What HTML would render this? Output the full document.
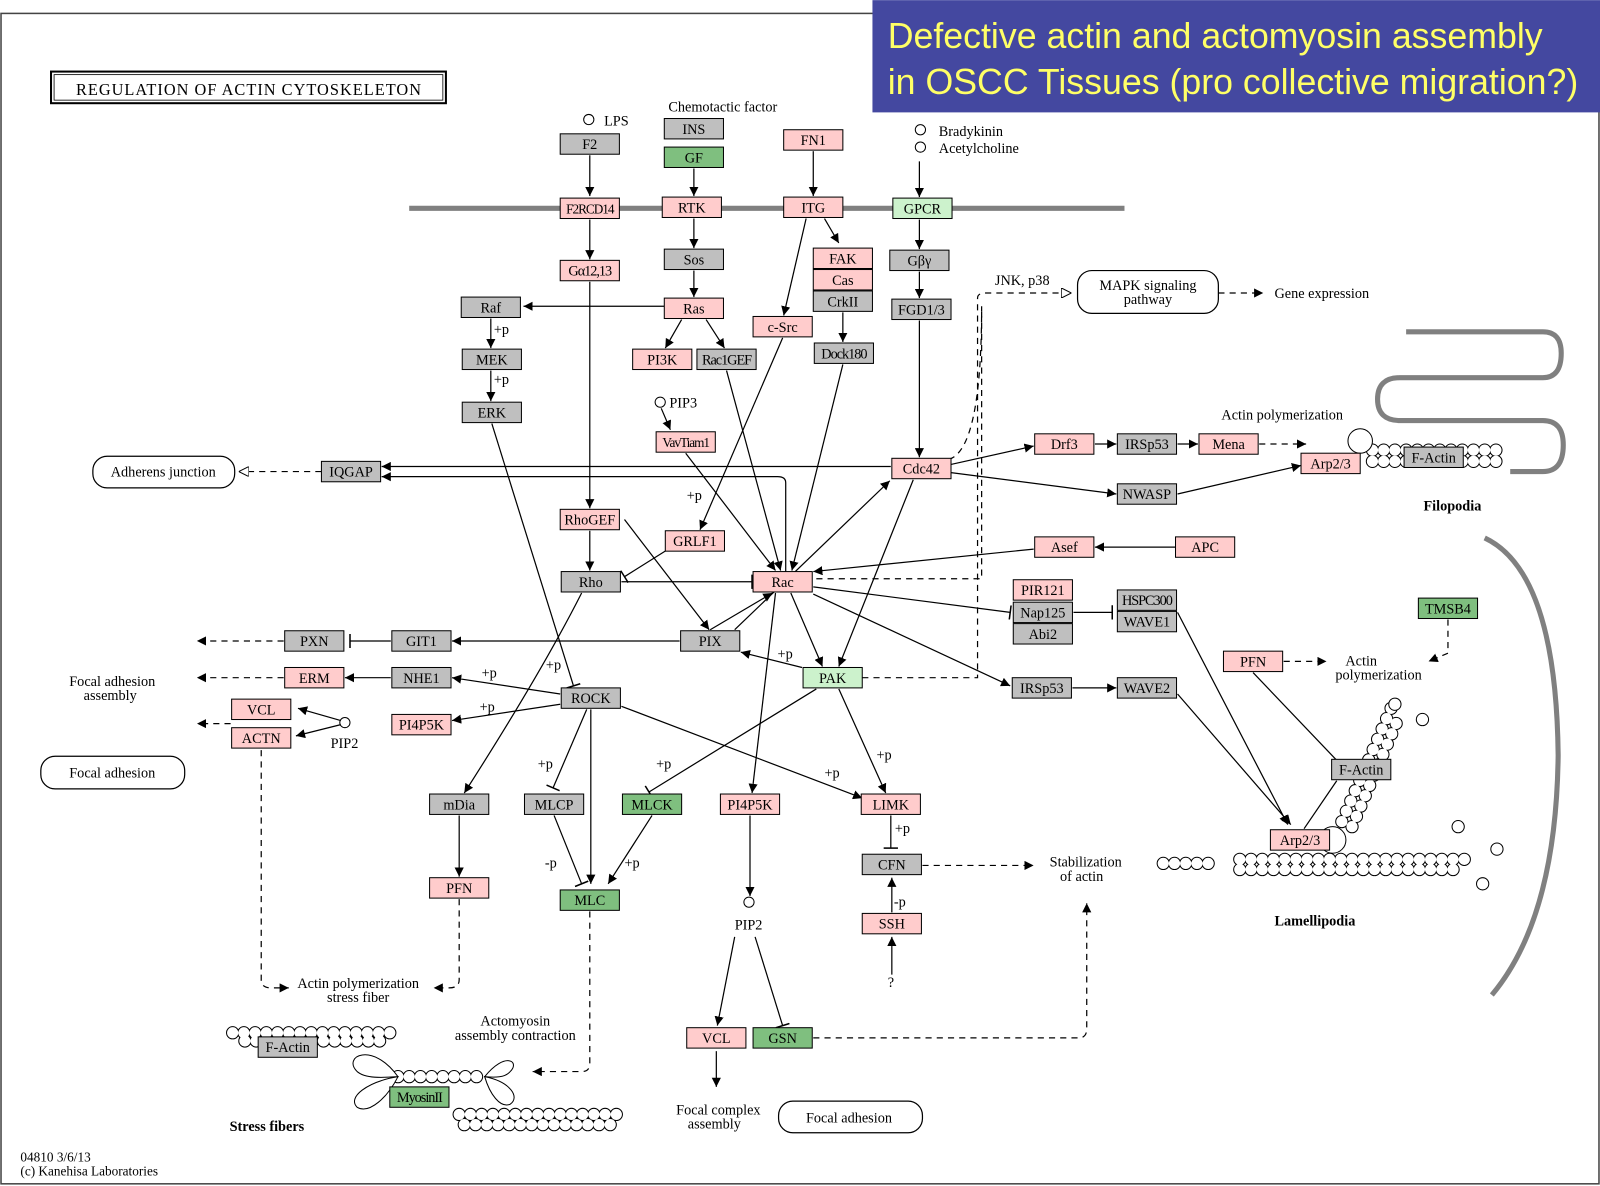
<!DOCTYPE html>
<html><head><meta charset="utf-8"><style>
html,body{margin:0;padding:0;background:#fff;}
svg{display:block}
text{font-family:"Liberation Serif",serif;font-size:14px;fill:#000}
.n text{text-anchor:middle}
.e{stroke:#000;stroke-width:1.2;fill:none}
.d{stroke:#000;stroke-width:1.2;fill:none;stroke-dasharray:6 5}
.p{fill:#ffcccc;stroke:#000;stroke-width:1}
.g{fill:#bfbfbf;stroke:#000;stroke-width:1}
.G{fill:#7fbf7f;stroke:#000;stroke-width:1}
.L{fill:#ccf2cc;stroke:#000;stroke-width:1}
</style></head><body>
<svg width="1600" height="1186" viewBox="0 0 1568 1162" xmlns="http://www.w3.org/2000/svg">
<defs>
<marker id="a" viewBox="0 0 10 10" refX="10" refY="5" markerWidth="9" markerHeight="9" orient="auto-start-reverse" markerUnits="userSpaceOnUse"><path d="M0,0 L10,5 L0,10 z" fill="#000"/></marker>
<marker id="o" viewBox="0 0 10 10" refX="10" refY="5" markerWidth="10" markerHeight="10" orient="auto" markerUnits="userSpaceOnUse"><path d="M0,0 L10,5 L0,10 z" fill="#fff" stroke="#000"/></marker>
<marker id="b" viewBox="0 0 4 14" refX="2" refY="7" markerWidth="4" markerHeight="14" orient="auto" markerUnits="userSpaceOnUse"><path d="M2,0 V14" stroke="#000" stroke-width="1.5"/></marker>
</defs>
<rect x="1" y="13" width="1566" height="1147" fill="#fff" stroke="#444" stroke-width="1.5"/>
<!-- title box -->
<rect x="855" y="0" width="713" height="110" fill="#4448a0"/>
<text x="870" y="47" style="font-family:'Liberation Sans',sans-serif;font-size:35px;fill:#ffff66">Defective actin and actomyosin assembly</text>
<text x="870" y="92" style="font-family:'Liberation Sans',sans-serif;font-size:35px;fill:#ffff66">in OSCC Tissues (pro collective migration?)</text>

<rect x="50" y="70" width="387" height="31" fill="#fff" stroke="#000" stroke-width="2"/>
<rect x="53" y="73" width="381" height="25" fill="none" stroke="#000" stroke-width="0.8"/>
<text x="244" y="93" text-anchor="middle" style="font-size:16px;letter-spacing:1px">REGULATION OF ACTIN CYTOSKELETON</text>

<!-- membrane -->
<line x1="401" y1="204" x2="1102" y2="204" stroke="#808080" stroke-width="5"/>

<!-- filopodia / lamellipodia shapes -->
<path d="M1378,325 H1512 Q1530,325 1530,346 Q1530,370 1512,370 H1372 Q1350,370 1350,391 Q1350,412 1372,412 H1512 Q1532,412 1532,436 Q1532,462 1512,462 H1480" fill="none" stroke="#808080" stroke-width="5"/>
<path d="M1455,527 Q1525,560 1527,740 Q1525,900 1462,975" fill="none" stroke="#808080" stroke-width="5"/>

<!-- actin chains (outlined circles) -->
<g stroke-linecap="round" fill="none">
<g stroke="#000" stroke-width="13" stroke-dasharray="0 11">
<path d="M1345,441 H1470"/><path d="M1345,452 H1470"/>
<path d="M1215,842 H1440"/><path d="M1215,852 H1430"/><path d="M1140,846 H1195"/>
<path d="M1315,805 L1365,690"/><path d="M1325,810 L1372,700"/>
<path d="M228,1012 H385"/><path d="M240,1020 H380"/>
<path d="M450,1092 H610"/><path d="M455,1102 H600"/>
<path d="M390,1055 H470"/>
</g>
<g stroke="#fff" stroke-width="11" stroke-dasharray="0 11">
<path d="M1345,441 H1470"/><path d="M1345,452 H1470"/>
<path d="M1215,842 H1440"/><path d="M1215,852 H1430"/><path d="M1140,846 H1195"/>
<path d="M1315,805 L1365,690"/><path d="M1325,810 L1372,700"/>
<path d="M228,1012 H385"/><path d="M240,1020 H380"/>
<path d="M450,1092 H610"/><path d="M455,1102 H600"/>
<path d="M390,1055 H470"/>
</g>
</g>
<g fill="#fff" stroke="#000">
<circle cx="1367" cy="690" r="6"/><circle cx="1394" cy="705" r="6"/><circle cx="1429" cy="810" r="6"/><circle cx="1467" cy="832" r="6"/><circle cx="1453" cy="866" r="6"/>
<circle cx="1333" cy="432" r="12"/><circle cx="1306" cy="823" r="13"/>
<path d="M390,1055 C365,1020 335,1035 350,1050 C358,1057 375,1056 390,1055 Z"/>
<path d="M390,1055 C360,1060 340,1075 350,1085 C362,1092 380,1075 390,1055 Z"/>
<path d="M475,1055 C495,1030 510,1040 500,1050 C495,1056 485,1056 475,1055 Z"/>
<path d="M475,1055 C500,1060 510,1075 500,1082 C490,1086 480,1072 475,1055 Z"/>
<circle cx="577" cy="117" r="5"/><circle cx="902" cy="127" r="5"/><circle cx="902" cy="144" r="5"/>
<circle cx="647" cy="394" r="5"/><circle cx="338" cy="708" r="5"/><circle cx="734" cy="884" r="5"/>
</g>

<!-- edges -->
<g class="e" marker-end="url(#a)">
<path d="M578,152 V192"/><path d="M680,165 V192"/><path d="M797,148 V192"/><path d="M901,158 V193"/>
<path d="M578,215 V254"/><path d="M680,214 V243"/><path d="M808,214 L822,238"/><path d="M680,265 V291"/>
<path d="M901,215 V244"/><path d="M901,266 V292"/><path d="M651,300 H513"/>
<path d="M481,312 V341"/><path d="M481,363 V393"/><path d="M668,313 L652,341"/><path d="M692,313 L710,341"/>
<path d="M790,214 L768,309"/><path d="M826,306 V335"/><path d="M648,400 L657,421"/><path d="M901,314 V448"/>
<path d="M578,276 V498"/><path d="M578,520 V559"/>
<path d="M873,457 H374"/><path d="M770,560 V473 Q770,467 762,467 H374"/>
<path d="M932,455 L1013,437"/><path d="M1073,435 H1094"/><path d="M1154,435 H1174"/>
<path d="M932,463 L1094,484"/><path d="M1154,484 L1275,456"/>
<path d="M1152,536 H1073"/><path d="M1013,538 L797,560"/><path d="M797,582 L990,672"/>
<path d="M1051,674 H1094"/><path d="M1154,680 L1265,808"/><path d="M1154,600 L1262,808"/>
<path d="M672,444 L760,559"/><path d="M767,331 L686,519"/><path d="M712,363 L765,559"/><path d="M826,357 L776,559"/>
<path d="M775,581 L806,653"/><path d="M895,470 L822,653"/><path d="M720,617 L872,471"/><path d="M696,617 L757,581"/>
<path d="M786,654 L726,639"/><path d="M822,675 L868,777"/>
<path d="M609,692 L845,782"/><path d="M579,695 V866"/><path d="M549,680 L443,664"/><path d="M549,690 L443,706"/>
<path d="M383,664 H338"/><path d="M666,628 H443"/>
<path d="M760,581 L737,777"/><path d="M570,581 Q530,660 455,777"/><path d="M450,799 V859"/>
<path d="M639,799 L596,866"/><path d="M735,799 V878"/><path d="M720,918 L703,1005"/><path d="M702,1030 V1065"/>
<path d="M874,894 V860"/><path d="M874,955 V918"/>
<path d="M334,706 L292,694"/><path d="M334,710 L290,721"/>
<path d="M612,509 L695,617"/>
</g>
<g class="e" marker-end="url(#b)">
<path d="M482,415 L562,672"/><path d="M609,570 L737,570"/><path d="M655,538 L612,565"/>
<path d="M797,575 L990,600"/><path d="M1052,600 H1090"/><path d="M800,675 L636,776"/>
<path d="M575,695 L542,772"/><path d="M543,799 L570,866"/><path d="M740,918 L767,1005"/>
<path d="M873,799 V831"/><path d="M383,628 H343"/>
</g>
<g class="d" marker-end="url(#a)">
<path d="M1234,435 H1280"/><path d="M1194,287 H1238"/><path d="M278,664 H193"/><path d="M278,628 H193"/><path d="M226,709 H193"/>
<path d="M1258,648 H1300"/><path d="M1419,607 V640 L1400,648"/>
<path d="M450,881 V960 Q450,968 440,968 H425"/><path d="M256,735 V960 Q256,968 266,968 H283"/>
<path d="M578,893 V1042 Q578,1050 570,1050 H522"/><path d="M797,1017 H1057 Q1065,1017 1065,1008 V885"/>
<path d="M904,848 H1013"/>
</g>
<g class="d">
<path d="M845,664 H958 V292 Q958,287 966,287 H1050" marker-end="url(#o)"/>
<path d="M930,450 Q962,440 962,300"/>
<path d="M800,567 H962 V300"/>
<path d="M315,462 H234" marker-end="url(#o)"/>
</g>
<path class="e" d="M1228,659 L1310,745"/><path class="e" d="M1310,765 L1278,812"/>

<!-- rounded boxes -->
<g fill="#fff" stroke="#000" stroke-width="1.2">
<rect x="91" y="447" width="139" height="31" rx="14"/>
<rect x="1056" y="265" width="138" height="42" rx="14"/>
<rect x="40" y="741" width="141" height="32" rx="14"/>
<rect x="763" y="1079" width="141" height="31" rx="14"/>
</g>
<text x="160" y="467" text-anchor="middle">Adherens junction</text>
<text x="1125" y="284" text-anchor="middle">MAPK signaling</text><text x="1125" y="298" text-anchor="middle">pathway</text>
<text x="110" y="762" text-anchor="middle">Focal adhesion</text>
<text x="832" y="1100" text-anchor="middle">Focal adhesion</text>

<!-- nodes -->
<g class="n">
<rect class="g" x="549" y="131" width="58" height="20"/><text x="578" y="146">F2</text>
<rect class="g" x="651" y="116" width="58" height="20"/><text x="680" y="131">INS</text>
<rect class="G" x="651" y="144" width="58" height="20"/><text x="680" y="159">GF</text>
<rect class="p" x="768" y="127" width="58" height="20"/><text x="797" y="142">FN1</text>
<rect class="L" x="875" y="194" width="58" height="20"/><text x="904" y="209">GPCR</text>
<rect class="p" x="549" y="194" width="58" height="20"/><text x="578" y="209" style="font-size:13px;letter-spacing:-1px">F2RCD14</text>
<rect class="p" x="649" y="193" width="58" height="20"/><text x="678" y="208">RTK</text>
<rect class="p" x="768" y="193" width="58" height="20"/><text x="797" y="208">ITG</text>
<rect class="p" x="549" y="255" width="58" height="20"/><text x="578" y="270" style="letter-spacing:-1px">Gα12,13</text>
<rect class="g" x="651" y="244" width="58" height="20"/><text x="680" y="259">Sos</text>
<rect class="p" x="797" y="243" width="58" height="20"/><text x="826" y="258">FAK</text>
<rect class="p" x="797" y="264" width="58" height="20"/><text x="826" y="279">Cas</text>
<rect class="g" x="797" y="285" width="58" height="20"/><text x="826" y="300">CrkII</text>
<rect class="g" x="872" y="245" width="58" height="20"/><text x="901" y="260">Gβγ</text>
<rect class="g" x="874" y="293" width="58" height="20"/><text x="903" y="308">FGD1/3</text>
<rect class="g" x="452" y="291" width="58" height="20"/><text x="481" y="306">Raf</text>
<rect class="p" x="651" y="292" width="58" height="20"/><text x="680" y="307">Ras</text>
<rect class="p" x="738" y="310" width="58" height="20"/><text x="767" y="325">c-Src</text>
<rect class="g" x="453" y="342" width="58" height="20"/><text x="482" y="357">MEK</text>
<rect class="p" x="620" y="342" width="58" height="20"/><text x="649" y="357">PI3K</text>
<rect class="g" x="683" y="342" width="58" height="20"/><text x="712" y="357" style="letter-spacing:-1px">Rac1GEF</text>
<rect class="g" x="798" y="336" width="58" height="20"/><text x="827" y="351" style="letter-spacing:-1px">Dock180</text>
<rect class="g" x="453" y="394" width="58" height="20"/><text x="482" y="409">ERK</text>
<rect class="p" x="643" y="423" width="58" height="20"/><text x="672" y="438" style="font-size:13px;letter-spacing:-1px">VavTiam1</text>
<rect class="g" x="315" y="452" width="58" height="20"/><text x="344" y="467">IQGAP</text>
<rect class="p" x="874" y="449" width="58" height="20"/><text x="903" y="464">Cdc42</text>
<rect class="p" x="1014" y="425" width="58" height="20"/><text x="1043" y="440">Drf3</text>
<rect class="g" x="1095" y="425" width="58" height="20"/><text x="1124" y="440">IRSp53</text>
<rect class="p" x="1175" y="425" width="58" height="20"/><text x="1204" y="440">Mena</text>
<rect class="p" x="1275" y="444" width="58" height="20"/><text x="1304" y="459">Arp2/3</text>
<rect class="g" x="1376" y="438" width="58" height="20"/><text x="1405" y="453">F-Actin</text>
<rect class="g" x="1095" y="474" width="58" height="20"/><text x="1124" y="489">NWASP</text>
<rect class="p" x="549" y="499" width="58" height="20"/><text x="578" y="514">RhoGEF</text>
<rect class="p" x="652" y="520" width="58" height="20"/><text x="681" y="535">GRLF1</text>
<rect class="p" x="1014" y="526" width="58" height="20"/><text x="1043" y="541">Asef</text>
<rect class="p" x="1152" y="526" width="58" height="20"/><text x="1181" y="541">APC</text>
<rect class="g" x="550" y="560" width="58" height="20"/><text x="579" y="575">Rho</text>
<rect class="p" x="738" y="560" width="58" height="20"/><text x="767" y="575">Rac</text>
<rect class="p" x="993" y="568" width="58" height="20"/><text x="1022" y="583">PIR121</text>
<rect class="g" x="993" y="590" width="58" height="20"/><text x="1022" y="605">Nap125</text>
<rect class="g" x="993" y="611" width="58" height="20"/><text x="1022" y="626">Abi2</text>
<rect class="g" x="1095" y="578" width="58" height="20"/><text x="1124" y="593" style="letter-spacing:-1px">HSPC300</text>
<rect class="g" x="1095" y="599" width="58" height="20"/><text x="1124" y="614">WAVE1</text>
<rect class="G" x="1390" y="586" width="58" height="20"/><text x="1419" y="601">TMSB4</text>
<rect class="g" x="279" y="618" width="58" height="20"/><text x="308" y="633">PXN</text>
<rect class="g" x="384" y="618" width="58" height="20"/><text x="413" y="633">GIT1</text>
<rect class="g" x="667" y="618" width="58" height="20"/><text x="696" y="633">PIX</text>
<rect class="p" x="1199" y="638" width="58" height="20"/><text x="1228" y="653">PFN</text>
<rect class="p" x="279" y="654" width="58" height="20"/><text x="308" y="669">ERM</text>
<rect class="g" x="384" y="654" width="58" height="20"/><text x="413" y="669">NHE1</text>
<rect class="L" x="787" y="654" width="58" height="20"/><text x="816" y="669">PAK</text>
<rect class="g" x="992" y="664" width="58" height="20"/><text x="1021" y="679">IRSp53</text>
<rect class="g" x="1095" y="664" width="58" height="20"/><text x="1124" y="679">WAVE2</text>
<rect class="p" x="227" y="685" width="58" height="20"/><text x="256" y="700">VCL</text>
<rect class="p" x="227" y="713" width="58" height="20"/><text x="256" y="728">ACTN</text>
<rect class="p" x="384" y="700" width="58" height="20"/><text x="413" y="715">PI4P5K</text>
<rect class="g" x="550" y="674" width="58" height="20"/><text x="579" y="689">ROCK</text>
<rect class="g" x="1305" y="744" width="58" height="20"/><text x="1334" y="759">F-Actin</text>
<rect class="g" x="421" y="778" width="58" height="20"/><text x="450" y="793">mDia</text>
<rect class="g" x="514" y="778" width="58" height="20"/><text x="543" y="793">MLCP</text>
<rect class="G" x="610" y="778" width="58" height="20"/><text x="639" y="793">MLCK</text>
<rect class="p" x="706" y="778" width="58" height="20"/><text x="735" y="793">PI4P5K</text>
<rect class="p" x="844" y="778" width="58" height="20"/><text x="873" y="793">LIMK</text>
<rect class="p" x="1245" y="813" width="58" height="20"/><text x="1274" y="828">Arp2/3</text>
<rect class="g" x="845" y="837" width="58" height="20"/><text x="874" y="852">CFN</text>
<rect class="p" x="421" y="860" width="58" height="20"/><text x="450" y="875">PFN</text>
<rect class="G" x="549" y="872" width="58" height="20"/><text x="578" y="887">MLC</text>
<rect class="p" x="845" y="895" width="58" height="20"/><text x="874" y="910">SSH</text>
<rect class="p" x="673" y="1007" width="58" height="20"/><text x="702" y="1022">VCL</text>
<rect class="G" x="738" y="1007" width="58" height="20"/><text x="767" y="1022">GSN</text>
<rect class="g" x="253" y="1016" width="58" height="20"/><text x="282" y="1031">F-Actin</text>
<rect class="G" x="382" y="1065" width="58" height="20"/><text x="411" y="1080" style="letter-spacing:-1px">MyosinII</text>
</g>

<!-- labels -->
<g>
<text x="592" y="123">LPS</text>
<text x="655" y="109">Chemotactic factor</text>
<text x="920" y="133">Bradykinin</text>
<text x="920" y="150">Acetylcholine</text>
<text x="975" y="279">JNK, p38</text>
<text x="1249" y="292">Gene expression</text>
<text x="656" y="399">PIP3</text>
<text x="1197" y="411">Actin polymerization</text>
<text x="1395" y="500" style="font-weight:bold">Filopodia</text>
<text x="1334" y="652" text-anchor="middle">Actin</text><text x="1351" y="666" text-anchor="middle">polymerization</text>
<text x="110" y="672" text-anchor="middle">Focal adhesion</text><text x="108" y="686" text-anchor="middle">assembly</text>
<text x="324" y="733">PIP2</text>
<text x="720" y="911">PIP2</text>
<text x="1064" y="849" text-anchor="middle">Stabilization</text><text x="1060" y="863" text-anchor="middle">of actin</text>
<text x="1249" y="907" style="font-weight:bold">Lamellipodia</text>
<text x="870" y="967">?</text>
<text x="351" y="968" text-anchor="middle">Actin polymerization</text><text x="351" y="982" text-anchor="middle">stress fiber</text>
<text x="505" y="1005" text-anchor="middle">Actomyosin</text><text x="505" y="1019" text-anchor="middle">assembly contraction</text>
<text x="704" y="1092" text-anchor="middle">Focal complex</text><text x="700" y="1106" text-anchor="middle">assembly</text>
<text x="225" y="1108" style="font-weight:bold">Stress fibers</text>
<text x="20" y="1138" style="font-size:13px">04810 3/6/13</text>
<text x="20" y="1152" style="font-size:13px">(c) Kanehisa Laboratories</text>
<text x="484" y="327">+p</text><text x="484" y="376">+p</text>
<text x="673" y="490">+p</text><text x="472" y="664">+p</text><text x="535" y="656">+p</text>
<text x="470" y="697">+p</text><text x="762" y="645">+p</text>
<text x="527" y="753">+p</text><text x="643" y="753">+p</text><text x="808" y="762">+p</text>
<text x="859" y="744">+p</text><text x="877" y="816">+p</text>
<text x="534" y="850">-p</text><text x="612" y="850">+p</text><text x="876" y="888">-p</text>
</g>
</svg>
</body></html>
